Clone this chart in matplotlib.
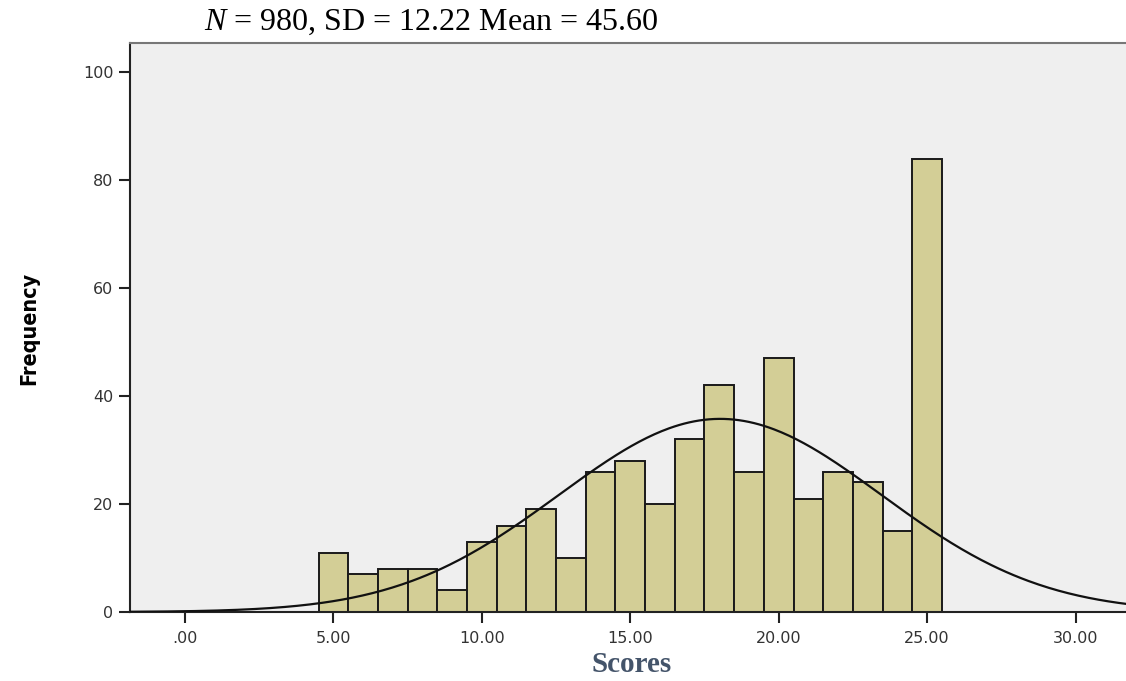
import numpy as np
import matplotlib.pyplot as plt

# histogram bins (score centres) and counts
scores = [5, 6, 7, 8, 9, 10, 11, 12, 13, 14, 15, 16, 17, 18, 19, 20, 21, 22, 23, 24, 25]
counts = [11, 7, 8, 8, 4, 13, 16, 19, 10, 26, 28, 20, 32, 42, 26, 47, 21, 26, 24, 15, 84]

x_ticks = [0, 5, 10, 15, 20, 25, 30]
x_tick_labels = ['.00', '5.00', '10.00', '15.00', '20.00', '25.00', '30.00']
y_ticks = [0, 20, 40, 60, 80, 100]

title_text = r'$N$ = 980, SD = 12.22 Mean = 45.60'

plt.rcParams['mathtext.fontset'] = 'custom'
plt.rcParams['mathtext.rm'] = 'Liberation Serif'
plt.rcParams['mathtext.it'] = 'Liberation Serif:italic'

fig = plt.figure(figsize=(11.26, 6.81), dpi=100)
ax = fig.add_axes([130 / 1126, 69 / 681, 996 / 1126, 569 / 681])
ax.set_facecolor('#efefef')

ax.bar(scores, counts, width=1.0, color='#d3ce96', edgecolor='#1a1a1a', linewidth=1.4, zorder=2)

# normal curve fitted to the binned data
s = np.array(scores, dtype=float)
c = np.array(counts, dtype=float)
n = c.sum()
mu = (s * c).sum() / n
sd = np.sqrt((c * (s - mu) ** 2).sum() / n)
xs = np.linspace(-1.85, 31.7, 400)
ys = n * np.exp(-0.5 * ((xs - mu) / sd) ** 2) / (sd * np.sqrt(2 * np.pi))
ax.plot(xs, ys, color='#111111', linewidth=1.6, zorder=3)

ax.set_xlim(-1.85, 31.7)
ax.set_ylim(0, 105.4)
ax.set_xticks(x_ticks)
ax.set_xticklabels(x_tick_labels)
ax.set_yticks(y_ticks)

ax.spines['right'].set_visible(False)
ax.spines['top'].set_color('#777777')
ax.spines['top'].set_linewidth(1.5)
for side in ['left', 'bottom']:
    ax.spines[side].set_color('#222222')
    ax.spines[side].set_linewidth(1.5)

ax.tick_params(axis='both', direction='out', length=8, width=1.5, color='#222222',
               labelsize=11.5, labelcolor='#333333', pad=4)
ax.tick_params(axis='x', pad=6)

fig.text(632 / 1126, 1 - 665 / 681, 'Scores', ha='center', va='center',
         family='Liberation Serif', fontsize=21, fontweight='bold', color='#44546a')
fig.text(29 / 1126, 1 - 328 / 681, 'Frequency', rotation=90, ha='center', va='center',
         family='DejaVu Sans', fontstretch='condensed', fontweight='bold', fontsize=15.5)
fig.text(431 / 1126, 1 - 22 / 681, title_text, ha='center', va='center',
         family='Liberation Serif', fontsize=23)

fig.savefig('out.png', dpi=100)
